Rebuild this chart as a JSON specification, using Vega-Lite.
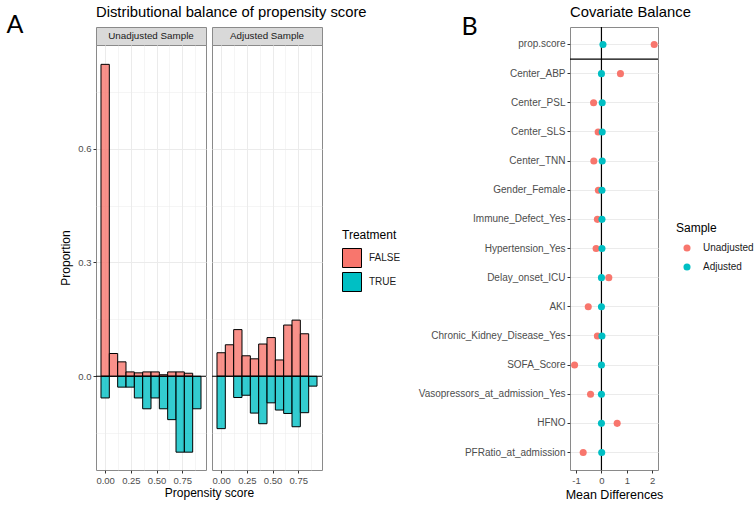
{
  "$schema": "https://vega.github.io/schema/vega-lite/v6.json",
  "background": "white",
  "padding": {"left": 6, "top": 4, "right": 0, "bottom": 0},
  "config": {
    "font": "Liberation Sans",
    "view": {"stroke": "#8a8a8a", "strokeWidth": 1},
    "axis": {"domain": false, "tickColor": "#333333", "tickSize": 3, "labelColor": "#4D4D4D", "labelFontSize": 9.5, "labelPadding": 2, "titleFontWeight": "normal", "titleColor": "black", "titleFontSize": 12, "gridColor": "#EBEBEB"},
    "title": {"fontWeight": "normal", "fontSize": 14.8, "color": "black", "anchor": "start"},
    "legend": {"titleFontWeight": "normal", "titleFontSize": 12, "titleColor": "black", "labelFontSize": 10, "labelColor": "#1A1A1A", "padding": 0}
  },
  "datasets": {
    "hist": [
      {"sample": "Unadjusted Sample", "treatment": "FALSE", "bin_start": -0.0405, "bin_end": 0.0405, "proportion": 0.822},
      {"sample": "Unadjusted Sample", "treatment": "FALSE", "bin_start": 0.0405, "bin_end": 0.1215, "proportion": 0.060},
      {"sample": "Unadjusted Sample", "treatment": "FALSE", "bin_start": 0.1215, "bin_end": 0.2025, "proportion": 0.038},
      {"sample": "Unadjusted Sample", "treatment": "FALSE", "bin_start": 0.2025, "bin_end": 0.2835, "proportion": 0.0115},
      {"sample": "Unadjusted Sample", "treatment": "FALSE", "bin_start": 0.2835, "bin_end": 0.3645, "proportion": 0.009},
      {"sample": "Unadjusted Sample", "treatment": "FALSE", "bin_start": 0.3645, "bin_end": 0.4455, "proportion": 0.0115},
      {"sample": "Unadjusted Sample", "treatment": "FALSE", "bin_start": 0.4455, "bin_end": 0.5265, "proportion": 0.0115},
      {"sample": "Unadjusted Sample", "treatment": "FALSE", "bin_start": 0.5265, "bin_end": 0.6075, "proportion": 0.004},
      {"sample": "Unadjusted Sample", "treatment": "FALSE", "bin_start": 0.6075, "bin_end": 0.6885, "proportion": 0.0115},
      {"sample": "Unadjusted Sample", "treatment": "FALSE", "bin_start": 0.6885, "bin_end": 0.7695, "proportion": 0.0115},
      {"sample": "Unadjusted Sample", "treatment": "FALSE", "bin_start": 0.7695, "bin_end": 0.8505, "proportion": 0.008},
      {"sample": "Unadjusted Sample", "treatment": "TRUE", "bin_start": -0.0405, "bin_end": 0.0405, "proportion": -0.0571},
      {"sample": "Unadjusted Sample", "treatment": "TRUE", "bin_start": 0.1215, "bin_end": 0.2025, "proportion": -0.0286},
      {"sample": "Unadjusted Sample", "treatment": "TRUE", "bin_start": 0.2025, "bin_end": 0.2835, "proportion": -0.0286},
      {"sample": "Unadjusted Sample", "treatment": "TRUE", "bin_start": 0.2835, "bin_end": 0.3645, "proportion": -0.0571},
      {"sample": "Unadjusted Sample", "treatment": "TRUE", "bin_start": 0.3645, "bin_end": 0.4455, "proportion": -0.0857},
      {"sample": "Unadjusted Sample", "treatment": "TRUE", "bin_start": 0.4455, "bin_end": 0.5265, "proportion": -0.0571},
      {"sample": "Unadjusted Sample", "treatment": "TRUE", "bin_start": 0.5265, "bin_end": 0.6075, "proportion": -0.0857},
      {"sample": "Unadjusted Sample", "treatment": "TRUE", "bin_start": 0.6075, "bin_end": 0.6885, "proportion": -0.1143},
      {"sample": "Unadjusted Sample", "treatment": "TRUE", "bin_start": 0.6885, "bin_end": 0.7695, "proportion": -0.2},
      {"sample": "Unadjusted Sample", "treatment": "TRUE", "bin_start": 0.7695, "bin_end": 0.8505, "proportion": -0.2},
      {"sample": "Unadjusted Sample", "treatment": "TRUE", "bin_start": 0.8505, "bin_end": 0.9315, "proportion": -0.0857},
      {"sample": "Adjusted Sample", "treatment": "FALSE", "bin_start": -0.0405, "bin_end": 0.0405, "proportion": 0.062},
      {"sample": "Adjusted Sample", "treatment": "FALSE", "bin_start": 0.0405, "bin_end": 0.1215, "proportion": 0.083},
      {"sample": "Adjusted Sample", "treatment": "FALSE", "bin_start": 0.1215, "bin_end": 0.2025, "proportion": 0.123},
      {"sample": "Adjusted Sample", "treatment": "FALSE", "bin_start": 0.2025, "bin_end": 0.2835, "proportion": 0.054},
      {"sample": "Adjusted Sample", "treatment": "FALSE", "bin_start": 0.2835, "bin_end": 0.3645, "proportion": 0.046},
      {"sample": "Adjusted Sample", "treatment": "FALSE", "bin_start": 0.3645, "bin_end": 0.4455, "proportion": 0.085},
      {"sample": "Adjusted Sample", "treatment": "FALSE", "bin_start": 0.4455, "bin_end": 0.5265, "proportion": 0.102},
      {"sample": "Adjusted Sample", "treatment": "FALSE", "bin_start": 0.5265, "bin_end": 0.6075, "proportion": 0.043},
      {"sample": "Adjusted Sample", "treatment": "FALSE", "bin_start": 0.6075, "bin_end": 0.6885, "proportion": 0.135},
      {"sample": "Adjusted Sample", "treatment": "FALSE", "bin_start": 0.6885, "bin_end": 0.7695, "proportion": 0.148},
      {"sample": "Adjusted Sample", "treatment": "FALSE", "bin_start": 0.7695, "bin_end": 0.8505, "proportion": 0.112},
      {"sample": "Adjusted Sample", "treatment": "TRUE", "bin_start": -0.0405, "bin_end": 0.0405, "proportion": -0.138},
      {"sample": "Adjusted Sample", "treatment": "TRUE", "bin_start": 0.1215, "bin_end": 0.2025, "proportion": -0.056},
      {"sample": "Adjusted Sample", "treatment": "TRUE", "bin_start": 0.2025, "bin_end": 0.2835, "proportion": -0.050},
      {"sample": "Adjusted Sample", "treatment": "TRUE", "bin_start": 0.2835, "bin_end": 0.3645, "proportion": -0.097},
      {"sample": "Adjusted Sample", "treatment": "TRUE", "bin_start": 0.3645, "bin_end": 0.4455, "proportion": -0.125},
      {"sample": "Adjusted Sample", "treatment": "TRUE", "bin_start": 0.4455, "bin_end": 0.5265, "proportion": -0.070},
      {"sample": "Adjusted Sample", "treatment": "TRUE", "bin_start": 0.5265, "bin_end": 0.6075, "proportion": -0.089},
      {"sample": "Adjusted Sample", "treatment": "TRUE", "bin_start": 0.6075, "bin_end": 0.6885, "proportion": -0.098},
      {"sample": "Adjusted Sample", "treatment": "TRUE", "bin_start": 0.6885, "bin_end": 0.7695, "proportion": -0.133},
      {"sample": "Adjusted Sample", "treatment": "TRUE", "bin_start": 0.7695, "bin_end": 0.8505, "proportion": -0.096},
      {"sample": "Adjusted Sample", "treatment": "TRUE", "bin_start": 0.8505, "bin_end": 0.9315, "proportion": -0.026}
    ],
    "balance": [
      {"covariate": "prop.score", "sample": "Unadjusted", "diff": 2.08},
      {"covariate": "Center_ABP", "sample": "Unadjusted", "diff": 0.75},
      {"covariate": "Center_PSL", "sample": "Unadjusted", "diff": -0.31},
      {"covariate": "Center_SLS", "sample": "Unadjusted", "diff": -0.13},
      {"covariate": "Center_TNN", "sample": "Unadjusted", "diff": -0.30},
      {"covariate": "Gender_Female", "sample": "Unadjusted", "diff": -0.12},
      {"covariate": "Immune_Defect_Yes", "sample": "Unadjusted", "diff": -0.16},
      {"covariate": "Hypertension_Yes", "sample": "Unadjusted", "diff": -0.21},
      {"covariate": "Delay_onset_ICU", "sample": "Unadjusted", "diff": 0.29},
      {"covariate": "AKI", "sample": "Unadjusted", "diff": -0.52},
      {"covariate": "Chronic_Kidney_Disease_Yes", "sample": "Unadjusted", "diff": -0.16},
      {"covariate": "SOFA_Score", "sample": "Unadjusted", "diff": -1.06},
      {"covariate": "Vasopressors_at_admission_Yes", "sample": "Unadjusted", "diff": -0.43},
      {"covariate": "HFNO", "sample": "Unadjusted", "diff": 0.62},
      {"covariate": "PFRatio_at_admission", "sample": "Unadjusted", "diff": -0.72},
      {"covariate": "prop.score", "sample": "Adjusted", "diff": 0.06},
      {"covariate": "Center_ABP", "sample": "Adjusted", "diff": 0.0},
      {"covariate": "Center_PSL", "sample": "Adjusted", "diff": 0.03},
      {"covariate": "Center_SLS", "sample": "Adjusted", "diff": 0.03},
      {"covariate": "Center_TNN", "sample": "Adjusted", "diff": 0.03},
      {"covariate": "Gender_Female", "sample": "Adjusted", "diff": 0.02},
      {"covariate": "Immune_Defect_Yes", "sample": "Adjusted", "diff": 0.02},
      {"covariate": "Hypertension_Yes", "sample": "Adjusted", "diff": 0.02},
      {"covariate": "Delay_onset_ICU", "sample": "Adjusted", "diff": 0.0},
      {"covariate": "AKI", "sample": "Adjusted", "diff": 0.0},
      {"covariate": "Chronic_Kidney_Disease_Yes", "sample": "Adjusted", "diff": 0.02},
      {"covariate": "SOFA_Score", "sample": "Adjusted", "diff": 0.0},
      {"covariate": "Vasopressors_at_admission_Yes", "sample": "Adjusted", "diff": 0.0},
      {"covariate": "HFNO", "sample": "Adjusted", "diff": 0.0},
      {"covariate": "PFRatio_at_admission", "sample": "Adjusted", "diff": 0.01}
    ]
  },
  "spacing": 15,
  "resolve": {"scale": {"color": "independent"}, "legend": {"color": "independent"}},
  "hconcat": [
    {
      "title": {"text": "A", "orient": "left", "anchor": "end", "angle": 0, "align": "right", "baseline": "top", "fontSize": 25, "font": "Lato", "offset": 19, "dy": 8},
      "resolve": {"scale": {"color": "independent"}, "legend": {"color": "independent"}},
      "vconcat": [
        {
          "title": {"text": "Distributional balance of propensity score", "anchor": "start", "frame": "group", "offset": 7},
          "columns": 2,
          "spacing": {"row": 0, "column": 6},
          "bounds": "flush",
          "resolve": {"scale": {"x": "independent", "y": "independent", "color": "independent"}, "legend": {"color": "independent"}},
          "concat": [
            {
              "width": 110, "height": 18,
              "view": {"fill": "#D9D9D9", "stroke": "#8a8a8a"},
              "data": {"values": [{"label": "Unadjusted Sample"}]},
              "mark": {"type": "text", "fontSize": 9.8, "color": "#1A1A1A", "baseline": "middle"},
              "encoding": {"text": {"field": "label", "type": "nominal"}}
            },
            {
              "width": 110, "height": 18,
              "view": {"fill": "#D9D9D9", "stroke": "#8a8a8a"},
              "data": {"values": [{"label": "Adjusted Sample"}]},
              "mark": {"type": "text", "fontSize": 9.8, "color": "#1A1A1A", "baseline": "middle"},
              "encoding": {"text": {"field": "label", "type": "nominal"}}
            },
            {
              "width": 110, "height": 425,
              "layer": [
                {
                  "data": {"name": "hist"},
                  "transform": [{"filter": "datum.sample == 'Unadjusted Sample'"}],
                  "mark": {"type": "rect", "stroke": "black", "strokeWidth": 1, "fillOpacity": 0.8},
                  "encoding": {
                    "x": {"field": "bin_start", "type": "quantitative", "scale": {"domain": [-0.089, 0.98], "nice": false, "zero": false},
                      "axis": {"values": [0, 0.125, 0.25, 0.375, 0.5, 0.625, 0.75, 0.875], "labelExpr": "round(datum.value*8) % 2 == 0 ? format(datum.value, '.2f') : ''", "labelOverlap": false, "labelFlush": false, "tickOpacity": {"condition": {"test": "round(datum.value*8) % 2 != 0", "value": 0}, "value": 1}, "gridWidth": {"condition": {"test": "round(datum.value*8) % 2 != 0", "value": 0.5}, "value": 1}, "title": "Propensity score", "titleX": 113, "titlePadding": 3}},
                    "x2": {"field": "bin_end"},
                    "y": {"field": "proportion", "type": "quantitative", "scale": {"domain": [-0.247, 0.873], "nice": false, "zero": false},
                      "axis": {"values": [-0.15, 0, 0.15, 0.3, 0.45, 0.6, 0.75], "labelExpr": "round(datum.value/0.15) % 2 == 0 ? format(datum.value, '.1f') : ''", "labelOverlap": false, "tickOpacity": {"condition": {"test": "round(datum.value/0.15) % 2 != 0", "value": 0}, "value": 1}, "gridWidth": {"condition": {"test": "round(datum.value/0.15) % 2 != 0", "value": 0.5}, "value": 1}, "title": "Proportion", "titlePadding": 5}},
                    "y2": {"datum": 0},
                    "color": {"field": "treatment", "type": "nominal", "scale": {"domain": ["FALSE", "TRUE"], "range": ["#F8766D", "#00BFC4"]}, "legend": null}
                  }
                },
                {
                  "data": {"values": [{}]},
                  "mark": {"type": "rule", "color": "black", "strokeWidth": 1.2},
                  "encoding": {"y": {"datum": 0}}
                }
              ]
            },
            {
              "width": 110, "height": 425,
              "layer": [
                {
                  "data": {"name": "hist"},
                  "transform": [{"filter": "datum.sample == 'Adjusted Sample'"}],
                  "mark": {"type": "rect", "stroke": "black", "strokeWidth": 1, "fillOpacity": 0.8},
                  "encoding": {
                    "x": {"field": "bin_start", "type": "quantitative", "scale": {"domain": [-0.089, 0.98], "nice": false, "zero": false},
                      "axis": {"values": [0, 0.125, 0.25, 0.375, 0.5, 0.625, 0.75, 0.875], "labelExpr": "round(datum.value*8) % 2 == 0 ? format(datum.value, '.2f') : ''", "labelOverlap": false, "labelFlush": false, "tickOpacity": {"condition": {"test": "round(datum.value*8) % 2 != 0", "value": 0}, "value": 1}, "gridWidth": {"condition": {"test": "round(datum.value*8) % 2 != 0", "value": 0.5}, "value": 1}, "title": null}},
                    "x2": {"field": "bin_end"},
                    "y": {"field": "proportion", "type": "quantitative", "scale": {"domain": [-0.247, 0.873], "nice": false, "zero": false},
                      "axis": {"values": [-0.15, 0, 0.15, 0.3, 0.45, 0.6, 0.75], "labels": false, "ticks": false, "gridWidth": {"condition": {"test": "round(datum.value/0.15) % 2 != 0", "value": 0.5}, "value": 1}, "title": null}},
                    "y2": {"datum": 0},
                    "color": {"field": "treatment", "type": "nominal", "scale": {"domain": ["FALSE", "TRUE"], "range": ["#F8766D", "#00BFC4"]},
                      "legend": {"title": "Treatment", "orient": "none", "legendX": 130, "legendY": 185, "symbolType": "square", "symbolSize": 361, "symbolStrokeColor": "black", "symbolStrokeWidth": 1, "symbolOpacity": 1, "rowPadding": 0, "labelOffset": 7, "titlePadding": 6}}
                  }
                },
                {
                  "data": {"values": [{}]},
                  "mark": {"type": "rule", "color": "black", "strokeWidth": 1.2},
                  "encoding": {"y": {"datum": 0}}
                }
              ]
            }
          ]
        }
      ]
    },
    {
      "title": {"text": "B", "orient": "left", "anchor": "end", "angle": 0, "align": "right", "baseline": "top", "fontSize": 25, "font": "Lato", "offset": -76, "dy": 11},
      "resolve": {"scale": {"color": "independent"}, "legend": {"color": "independent"}},
      "vconcat": [
        {
          "title": {"text": "Covariate Balance", "anchor": "start", "frame": "group", "offset": 7},
          "width": 88, "height": 443,
          "data": {"name": "balance"},
          "layer": [
            {
              "data": {"values": [{}]},
              "mark": {"type": "rule", "color": "black", "strokeWidth": 1.2},
              "encoding": {"x": {"datum": 0, "type": "quantitative", "scale": {"domain": [-1.24, 2.23], "nice": false, "zero": false},
                  "axis": {"values": [-1, -0.5, 0, 0.5, 1, 1.5, 2], "labelExpr": "datum.value % 1 == 0 ? '' + datum.value : ''", "labelOverlap": false, "labelFlush": false, "tickOpacity": {"condition": {"test": "datum.value % 1 != 0", "value": 0}, "value": 1}, "gridWidth": {"condition": {"test": "datum.value % 1 != 0", "value": 0.5}, "value": 1}, "title": "Mean Differences", "titleFontSize": 12.5, "titlePadding": 4}}}
            },
            {
              "data": {"values": [{"covariate": "prop.score"}]},
              "mark": {"type": "rule", "color": "black", "strokeWidth": 1.2},
              "encoding": {"y": {"field": "covariate", "type": "nominal", "bandPosition": 1, "sort": null,
                "scale": {"type": "band", "domain": ["prop.score", "Center_ABP", "Center_PSL", "Center_SLS", "Center_TNN", "Gender_Female", "Immune_Defect_Yes", "Hypertension_Yes", "Delay_onset_ICU", "AKI", "Chronic_Kidney_Disease_Yes", "SOFA_Score", "Vasopressors_at_admission_Yes", "HFNO", "PFRatio_at_admission"], "paddingInner": 0, "paddingOuter": 0.1},
                "axis": {"title": null, "bandPosition": 0.5, "grid": true, "gridWidth": 1, "labelFontSize": 10}}}
            },
            {
              "mark": {"type": "point", "filled": true, "size": 50, "opacity": 1},
              "encoding": {
                "x": {"field": "diff", "type": "quantitative", "scale": {"domain": [-1.24, 2.23], "nice": false, "zero": false},
                  "axis": {"values": [-1, -0.5, 0, 0.5, 1, 1.5, 2], "labelExpr": "datum.value % 1 == 0 ? '' + datum.value : ''", "labelOverlap": false, "labelFlush": false, "tickOpacity": {"condition": {"test": "datum.value % 1 != 0", "value": 0}, "value": 1}, "gridWidth": {"condition": {"test": "datum.value % 1 != 0", "value": 0.5}, "value": 1}, "title": "Mean Differences", "titleFontSize": 12.5, "titlePadding": 4}},
                "y": {"field": "covariate", "type": "nominal", "sort": null,
                  "scale": {"type": "band", "domain": ["prop.score", "Center_ABP", "Center_PSL", "Center_SLS", "Center_TNN", "Gender_Female", "Immune_Defect_Yes", "Hypertension_Yes", "Delay_onset_ICU", "AKI", "Chronic_Kidney_Disease_Yes", "SOFA_Score", "Vasopressors_at_admission_Yes", "HFNO", "PFRatio_at_admission"], "paddingInner": 0, "paddingOuter": 0.1},
                  "axis": {"title": null, "bandPosition": 0.5, "grid": true, "gridWidth": 1, "labelFontSize": 10}},
                "color": {"field": "sample", "type": "nominal", "scale": {"domain": ["Unadjusted", "Adjusted"], "range": ["#F8766D", "#00BFC4"]},
                  "legend": {"title": "Sample", "orient": "none", "legendX": 106, "legendY": 196, "symbolType": "circle", "symbolSize": 50, "symbolOpacity": 1, "rowPadding": 9, "symbolOffset": 6, "labelOffset": 11, "titlePadding": 8}}
              }
            }
          ]
        }
      ]
    }
  ]
}
